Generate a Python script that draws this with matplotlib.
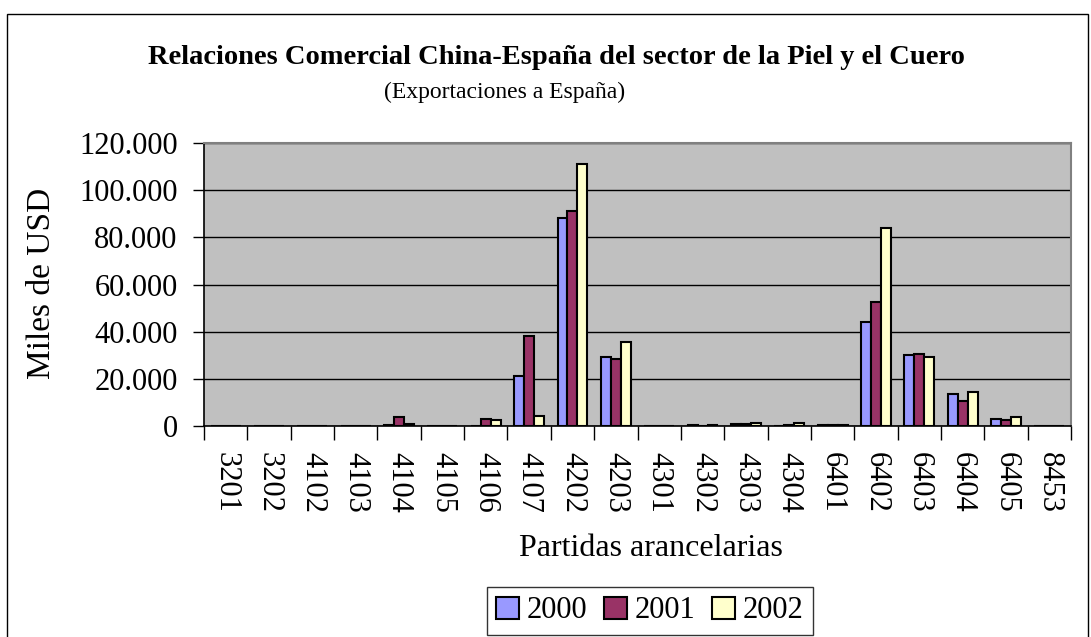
import matplotlib
matplotlib.use("Agg")
import matplotlib.pyplot as plt
import numpy as np
from matplotlib.patches import Rectangle

categories = ["3201", "3202", "4102", "4103", "4104", "4105", "4106", "4107", "4202", "4203",
              "4301", "4302", "4303", "4304", "6401", "6402", "6403", "6404", "6405", "8453"]
years = ["2000", "2001", "2002"]
v2000 = [0, 0, 0, 0, 300, 0, 200, 21100, 88300, 29300, 0, 300, 700, 0, 300, 44200, 30000, 13700, 2800, 0]
v2001 = [0, 0, 0, 0, 3800, 0, 2800, 38200, 91000, 28300, 0, 0, 1000, 300, 300, 52400, 30600, 10800, 2700, 0]
v2002 = [0, 0, 0, 0, 850, 0, 2700, 4100, 111300, 35500, 0, 300, 1200, 1300, 300, 84000, 29400, 14500, 3900, 0]
colors = ["#9999FF", "#993366", "#FFFFCC"]
yticks = [0, 20000, 40000, 60000, 80000, 100000, 120000]
ytick_labels = ["0", "20.000", "40.000", "60.000", "80.000", "100.000", "120.000"]

plt.rcParams['font.family'] = ['Liberation Serif', 'DejaVu Serif']

fig = plt.figure(figsize=(10.91, 6.37), dpi=100)
# outer chart frame
fig.patches.append(Rectangle((7 / 1091, -0.01), (1088 - 7) / 1091, 1 - 14 / 637 + 0.01,
                             transform=fig.transFigure, fill=False, edgecolor='black',
                             linewidth=1.0, zorder=0))

ax = fig.add_axes([204 / 1091, 1 - 426 / 637, (1071 - 204) / 1091, (426 - 143) / 637])
ax.set_facecolor("#C0C0C0")

x = np.arange(len(categories))
w = 0.23
series = [v2000, v2001, v2002]
handles = []
for i, (vals, c, yr) in enumerate(zip(series, colors, years)):
    b = ax.bar(x + (i - 1) * w, vals, width=w, color=c, edgecolor='black', linewidth=1.5,
               label=yr, zorder=3)
    handles.append(b)

ax.set_xlim(-0.5, len(categories) - 0.5)
ax.set_ylim(0, 120000)
ax.set_yticks(yticks)
ax.set_yticklabels(ytick_labels, fontsize=22)
ax.yaxis.grid(True, color='black', linewidth=1.0, zorder=1)
ax.set_axisbelow(True)

ax.set_xticks(x)
ax.set_xticklabels(categories, rotation=270, fontsize=22, va='top', ha='center')
ax.set_xticks(np.arange(len(categories) + 1) - 0.5, minor=True)
ax.tick_params(axis='x', which='major', length=0, pad=19)
ax.tick_params(axis='x', which='minor', length=10, width=1.0, direction='out')
ax.tick_params(axis='y', length=8, width=1.0, direction='out', pad=11)

for s in ['left', 'bottom']:
    ax.spines[s].set_color('black')
    ax.spines[s].set_linewidth(1.2)
for s in ['top', 'right']:
    ax.spines[s].set_color('#808080')
    ax.spines[s].set_linewidth(1.5)

fig.text(42 / 1091, 1 - 283 / 637, "Miles de USD", fontsize=24, rotation=90, ha='center', va='center')
fig.text(651 / 1091, 1 - 548 / 637, "Partidas arancelarias", fontsize=23, ha='center', va='center')

fig.text(556 / 1091, 1 - 57 / 637, "Relaciones Comercial China-España del sector de la Piel y el Cuero",
         fontsize=20.5, fontweight='bold', ha='center', va='center')
fig.text(505 / 1091, 1 - 92 / 637, "(Exportaciones a España)", fontsize=17, ha='center', va='center')

leg = fig.legend(handles=handles, labels=years, loc='center', bbox_to_anchor=(650 / 1091, 1 - 611 / 637),
                 ncol=3, fontsize=22, frameon=True, fancybox=False, edgecolor='black',
                 handlelength=0.75, handleheight=0.75, handletextpad=0.25, columnspacing=0.55,
                 borderpad=0.3, borderaxespad=0)
leg.get_frame().set_linewidth(1.0)

fig.savefig("out.png", dpi=100)
